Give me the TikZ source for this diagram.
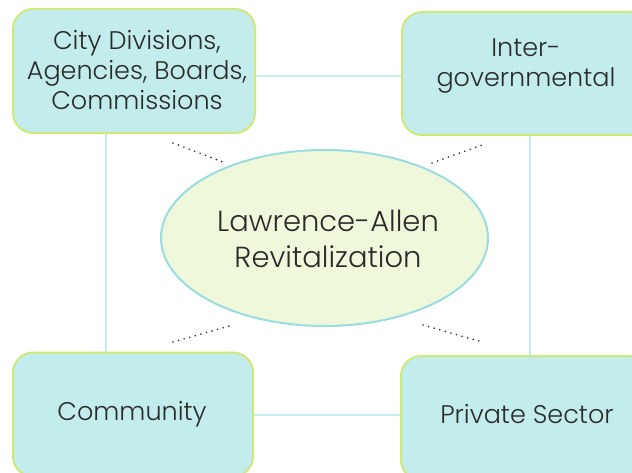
\documentclass[tikz,border=0pt]{standalone}
\usepackage{fontspec}
\setmainfont{Poppins Light}
\usetikzlibrary{shapes.geometric}
\definecolor{boxfill}{HTML}{C3EDEC}
\definecolor{boxline}{HTML}{CFE87A}
\definecolor{ellfill}{HTML}{F0F8DC}
\definecolor{ellline}{HTML}{9ADDE0}
\definecolor{conn}{HTML}{C4EEF0}
\definecolor{txt}{HTML}{2B2B2B}
\begin{document}
\begin{tikzpicture}[x=1pt,y=-1pt,
  box/.style={draw=boxline, fill=boxfill, line width=2pt, rounded corners=20pt, inner sep=0pt},
  boxtext/.style={text=txt, align=center, font=\fontsize{25.5}{30}\selectfont, inner sep=0pt},
  elltext/.style={text=txt, align=center, font=\fontsize{29}{36}\selectfont, inner sep=0pt},
  link/.style={draw=conn, line width=2pt},
  dots/.style={draw=black!85, line width=1.8pt, line cap=round, dash pattern=on 0pt off 5.8pt}]
\useasboundingbox (0,0) rectangle (632,473);
\coordinate (vl) at (106,0);
\coordinate (vr) at (530,0);
\node[box, minimum width=242pt, minimum height=124pt] (tl) at (134,71) {};
\node[box, minimum width=248pt, minimum height=123pt] (tr) at (526,73.5) {};
\node[box, minimum width=240pt, minimum height=124pt] (bl) at (133,414.5) {};
\node[box, minimum width=248pt, minimum height=124pt] (br) at (525,418) {};
\draw[link] (tl.east |- 0,76) coordinate (a1) -- (tr.west |- a1);
\draw[link] (bl.east |- 0,415) coordinate (a2) -- (br.west |- a2);
\draw[link] (tl.south -| vl) -- (bl.north -| vl);
\draw[link] (tr.south -| vr) -- (br.north -| vr);
\node[draw=ellline, fill=ellfill, line width=2pt, ellipse, minimum width=327pt, minimum height=176pt, inner sep=0pt] (ell) at (324.5,238) {};
\node[elltext] (ellt) at (328,239) {Lawrence-Allen\\Revitalization};
\node[boxtext] (tlt) at (137,70) {City Divisions,\\Agencies, Boards,\\Commissions};
\node[boxtext] (trt) at (526,66) {Inter-\\governmental};
\node[boxtext] (blt) at (132,414) {Community};
\node[boxtext] (brt) at (527,414) {Private Sector};
\coordinate (d1a) at (173,143); \coordinate (d1b) at (223,162);
\coordinate (d2a) at (432,163); \coordinate (d2b) at (482,145);
\coordinate (d3a) at (173,342); \coordinate (d3b) at (233,325);
\coordinate (d4a) at (423,325); \coordinate (d4b) at (482,342);
\draw[dots] (d1a) -- (d1b);
\draw[dots] (d2a) -- (d2b);
\draw[dots] (d3a) -- (d3b);
\draw[dots] (d4a) -- (d4b);
\end{tikzpicture}
\end{document}
